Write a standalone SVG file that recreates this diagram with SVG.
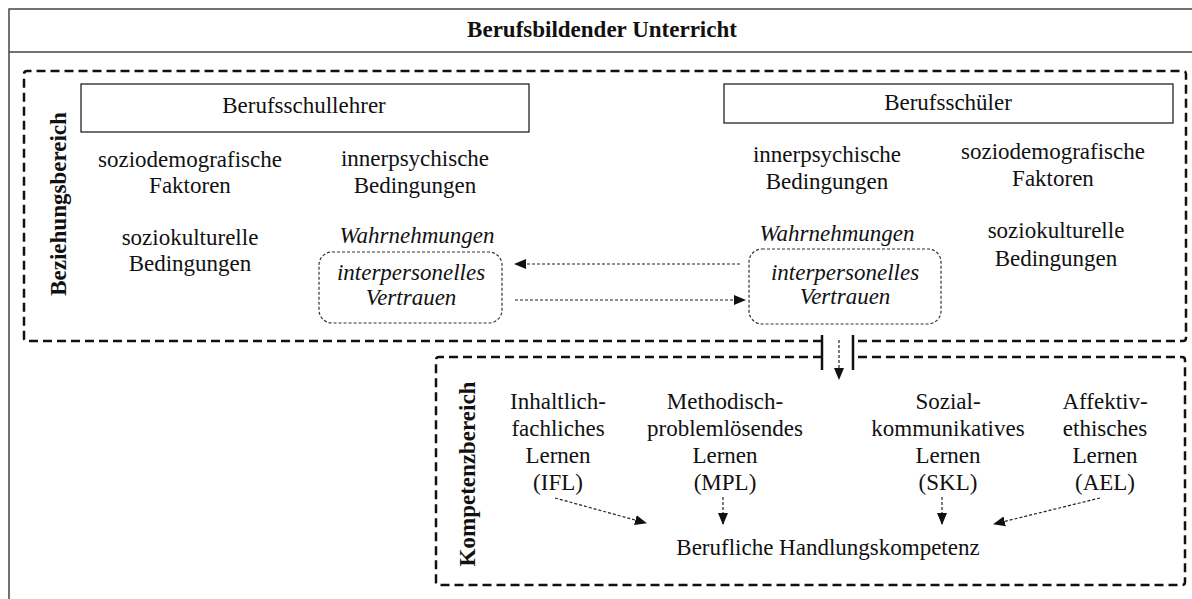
<svg xmlns="http://www.w3.org/2000/svg" width="1192" height="599" viewBox="0 0 1192 599">
<style>
text{font-family:"Liberation Serif","Times New Roman",serif;font-size:23px;fill:#111;text-anchor:middle}
.b{font-weight:bold}
.i{font-style:italic}
.frame{fill:none;stroke:#444;stroke-width:1.5}
.box{fill:#fff;stroke:#222;stroke-width:1.3}
.zone{fill:none;stroke:#111;stroke-width:2.5;stroke-dasharray:9 5}
.soft{fill:#fff;stroke:#333;stroke-width:1.2;stroke-dasharray:3 2}
.conn{fill:none;stroke:#222;stroke-width:1.2;stroke-dasharray:3 2}
.solid{stroke:#111;stroke-width:2.5}
</style>
<defs>
<marker id="ah" markerUnits="userSpaceOnUse" markerWidth="12" markerHeight="12" viewBox="0 0 12 12" refX="11" refY="6" orient="auto">
<path d="M0,1 L12,6 L0,11 Z" fill="#111"/>
</marker>
</defs>
<rect width="1192" height="599" fill="#fff"/>

<g id="frame">
<path class="frame" d="M1200,9 H9 V610"/>
<line class="frame" x1="9" y1="52" x2="1200" y2="52"/>
<text class="b" x="602" y="37">Berufsbildender Unterricht</text>
</g>

<g id="beziehungsbereich">
<path class="zone" d="M822,341 H27 Q24,341 24,338 V74 Q24,71 27,71 H1183 Q1186,71 1186,74 V338 Q1186,341 1183,341 H853"/>
<text class="b" transform="translate(66,204) rotate(-90)">Beziehungsbereich</text>
</g>

<g id="kompetenzbereich">
<path class="zone" d="M822,357 H439 Q436,357 436,360 V582 Q436,585 439,585 H1182 Q1185,585 1185,582 V360 Q1185,357 1182,357 H853"/>
<text class="b" transform="translate(475,474) rotate(-90)">Kompetenzbereich</text>
</g>

<g id="junction">
<line class="solid" x1="822" y1="335" x2="822" y2="370"/>
<line class="solid" x1="853" y1="335" x2="853" y2="370"/>
</g>

<g id="lehrer">
<rect class="box" x="81" y="84" width="448" height="48"/>
<text x="304" y="113">Berufsschullehrer</text>
</g>
<g id="schueler">
<rect class="box" x="724" y="84" width="449" height="39"/>
<text x="948" y="110">Berufsschüler</text>
</g>

<g id="l-sozdem"><text x="190" y="167">soziodemografische</text><text x="190" y="193">Faktoren</text></g>
<g id="l-innerpsy"><text x="415" y="166">innerpsychische</text><text x="415" y="193">Bedingungen</text></g>
<g id="l-sozkult"><text x="190" y="245">soziokulturelle</text><text x="190" y="271">Bedingungen</text></g>
<g id="l-wahr"><text class="i" x="417" y="243">Wahrnehmungen</text></g>
<g id="l-vertrauen">
<rect class="soft" x="319" y="252" width="183" height="71" rx="13"/>
<text class="i" x="411" y="280">interpersonelles</text><text class="i" x="411" y="305">Vertrauen</text>
</g>

<g id="r-innerpsy"><text x="827" y="162">innerpsychische</text><text x="827" y="189">Bedingungen</text></g>
<g id="r-sozdem"><text x="1053" y="159">soziodemografische</text><text x="1053" y="186">Faktoren</text></g>
<g id="r-wahr"><text class="i" x="837" y="241">Wahrnehmungen</text></g>
<g id="r-sozkult"><text x="1056" y="238">soziokulturelle</text><text x="1056" y="266">Bedingungen</text></g>
<g id="r-vertrauen">
<rect class="soft" x="749" y="249" width="192" height="75" rx="13"/>
<text class="i" x="845" y="280">interpersonelles</text><text class="i" x="845" y="304">Vertrauen</text>
</g>

<g id="ifl"><text x="558" y="409">Inhaltlich-</text><text x="558" y="436">fachliches</text><text x="558" y="463">Lernen</text><text x="558" y="490">(IFL)</text></g>
<g id="mpl"><text x="725" y="409">Methodisch-</text><text x="725" y="436">problemlösendes</text><text x="725" y="463">Lernen</text><text x="725" y="490">(MPL)</text></g>
<g id="skl"><text x="948" y="409">Sozial-</text><text x="948" y="436">kommunikatives</text><text x="948" y="463">Lernen</text><text x="948" y="490">(SKL)</text></g>
<g id="ael"><text x="1105" y="409">Affektiv-</text><text x="1105" y="436">ethisches</text><text x="1105" y="463">Lernen</text><text x="1105" y="490">(AEL)</text></g>
<g id="bhk"><text x="828" y="555">Berufliche Handlungskompetenz</text></g>

<g id="connectors">
<line class="conn" x1="740" y1="264" x2="515" y2="264" marker-end="url(#ah)"/>
<line class="conn" x1="515" y1="300" x2="745" y2="300" marker-end="url(#ah)"/>
<line class="conn" x1="839" y1="340" x2="839" y2="379" marker-end="url(#ah)"/>
<line class="conn" x1="555" y1="498" x2="646" y2="523" marker-end="url(#ah)"/>
<line class="conn" x1="723" y1="497" x2="723" y2="524" marker-end="url(#ah)"/>
<line class="conn" x1="942" y1="497" x2="942" y2="524" marker-end="url(#ah)"/>
<line class="conn" x1="1100" y1="498" x2="994" y2="524" marker-end="url(#ah)"/>
</g>
</svg>
